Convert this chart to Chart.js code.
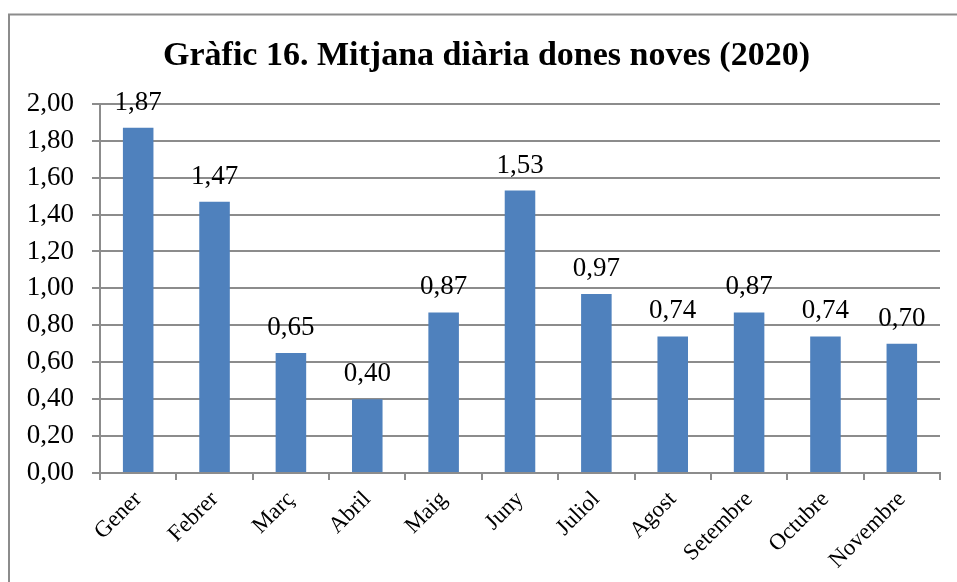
<!DOCTYPE html>
<html>
<head>
<meta charset="utf-8">
<script src="https://cdn.jsdelivr.net/npm/chart.js@4/dist/chart.umd.min.js"></script>
<style>
  html, body { margin: 0; padding: 0; background: #fff; }
  #wrap { position: relative; width: 957px; height: 582px; }
</style>
</head>
<body>
<div id="wrap"><canvas id="mitjanaChart"></canvas></div>
<script>
const months = ['Gener', 'Febrer', 'Març', 'Abril', 'Maig', 'Juny', 'Juliol', 'Agost', 'Setembre', 'Octubre', 'Novembre'];
const dailyMean = [1.87, 1.47, 0.65, 0.40, 0.87, 1.53, 0.97, 0.74, 0.87, 0.74, 0.70];
const yTicks = [0, 0.2, 0.4, 0.6, 0.8, 1.0, 1.2, 1.4, 1.6, 1.8, 2.0];
const chartTitle = 'Gràfic 16. Mitjana diària dones noves (2020)';

const serif = "'Liberation Serif', 'DejaVu Serif', serif";
const gray = '#8c8c8c';

// comma decimal, two places
const fmt = (v) => Number(v).toFixed(2).replace('.', ',');

// outer frame of the excel-style chart box
const framePlugin = {
    id: 'frame',
    beforeDraw(chart) {
        const ctx = chart.ctx;
        ctx.save();
        ctx.strokeStyle = gray;
        ctx.lineWidth = 2;
        ctx.strokeRect(9, 14.5, 1000, 1000);
        ctx.restore();
    }
};

// value labels above each bar
const valueLabels = {
    id: 'valueLabels',
    afterDatasetsDraw(chart) {
        const ctx = chart.ctx;
        const meta = chart.getDatasetMeta(0);
        ctx.save();
        ctx.font = '27px ' + serif;
        ctx.fillStyle = '#000';
        ctx.textAlign = 'center';
        ctx.textBaseline = 'alphabetic';
        meta.data.forEach((bar, i) => {
            ctx.fillText(fmt(dailyMean[i]), bar.x, bar.y - 18);
        });
        ctx.restore();
    }
};

new Chart('mitjanaChart', {
    type: 'bar',
    data: {
        labels: months,
        datasets: [
            {
                data: dailyMean,
                backgroundColor: '#4f81bd',
                borderWidth: 0,
                barPercentage: 0.4,
                categoryPercentage: 1.0
            }
        ]
    },
    options: {
        responsive: true,
        maintainAspectRatio: false,
        animation: false,
        layout: { padding: { left: 16, right: 0, top: 0, bottom: 0 } },
        plugins: {
            legend: { display: false },
            tooltip: { enabled: false },
            title: {
                display: true,
                text: chartTitle,
                color: '#000',
                font: { family: serif, size: 34, weight: 'bold' },
                padding: { top: 36, bottom: 27 }
            }
        },
        scales: {
            x: {
                grid: {
                    display: true,
                    drawOnChartArea: false,
                    drawTicks: true,
                    tickLength: 7,
                    color: gray,
                    lineWidth: 2,
                    offset: true
                },
                border: { display: true, color: gray, width: 2 },
                ticks: {
                    color: '#000',
                    font: { family: serif, size: 23 },
                    maxRotation: 45,
                    minRotation: 45,
                    padding: 6,
                    autoSkip: false
                },
                afterFit(scale) { scale.height = 109; }
            },
            y: {
                min: 0,
                max: 2,
                afterBuildTicks(scale) { scale.ticks = yTicks.map((v) => ({ value: v })); },
                grid: {
                    color: gray,
                    lineWidth: 2,
                    drawTicks: true,
                    tickLength: 8
                },
                border: { display: true, color: gray, width: 2 },
                ticks: {
                    color: '#000',
                    font: { family: serif, size: 27 },
                    padding: 18,
                    callback: (v) => fmt(v)
                },
                afterFit(scale) { scale.width = 84; }
            },
            yRight: {
                position: 'right',
                display: true,
                grid: { display: false },
                border: { display: false },
                ticks: { display: false },
                afterFit(scale) { scale.width = 17; }
            }
        }
    },
    plugins: [framePlugin, valueLabels]
});
</script>
</body>
</html>
